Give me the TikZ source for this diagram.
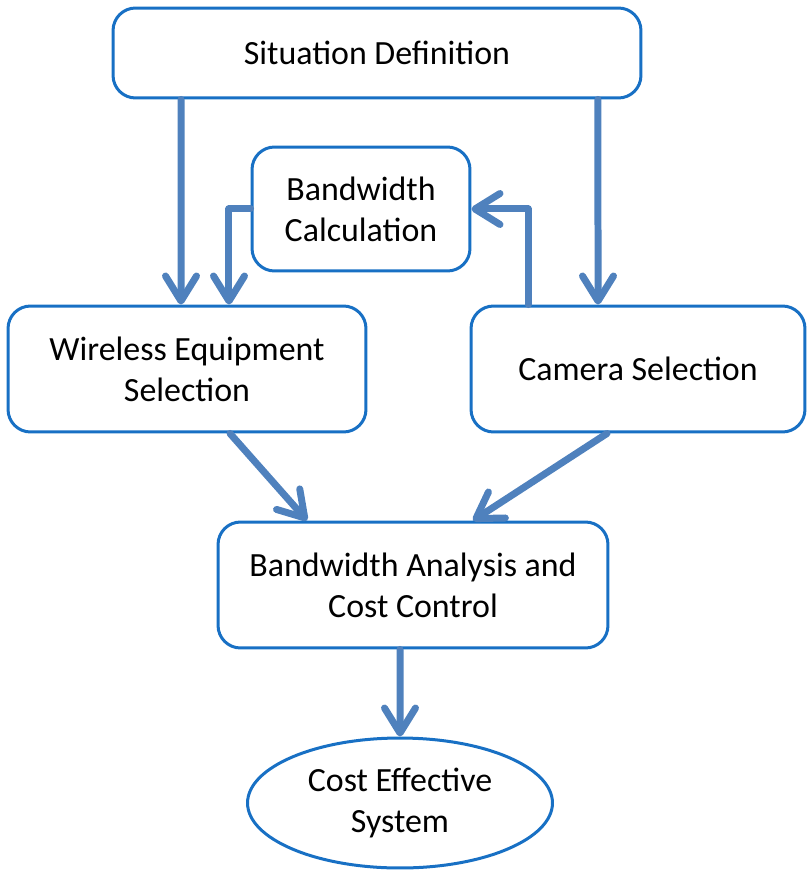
\documentclass[tikz,border=0pt]{standalone}
\usepackage{fontspec}
\setmainfont{Carlito}
\usetikzlibrary{arrows.meta,shapes.geometric}
\definecolor{boxblue}{RGB}{24,112,196}
\definecolor{arrblue}{RGB}{79,129,189}
\begin{document}
\begin{tikzpicture}[x=0.02cm,y=-0.02cm,
    box/.style={draw=boxblue,line width=0.06cm,rounded corners=0.45cm,align=center,
        font=\fontsize{19.3}{23.3}\selectfont,text=black,inner sep=0pt},
    arr/.style={draw=arrblue,line width=0.14cm,line cap=round,line join=round,
        -{Straight Barb[length=0.5cm,width=0.62cm,round]}}]
    \useasboundingbox(0,0)rectangle(807,871);
    \node[box,minimum width=10.56cm,minimum height=1.8cm](sit)at(377,53){Situation Definition};
    \node[box,minimum width=4.36cm,minimum height=2.48cm](calc)at(361,209){Bandwidth\\Calculation};
    \node[box,minimum width=7.16cm,minimum height=2.52cm](wire)at(187,369){Wireless Equipment\\Selection};
    \node[box,minimum width=6.68cm,minimum height=2.52cm](cam)at(638,369){Camera Selection};
    \node[box,minimum width=7.8cm,minimum height=2.52cm](ana)at(413,585){Bandwidth Analysis and\\Cost Control};
    \node[box,ellipse,minimum width=6.1cm,minimum height=2.6cm](eff)at(400,803){Cost Effective\\System};
    \draw[arr]([xshift=-3.92cm]sit.south)--([xshift=-0.12cm]wire.north);
    \draw[arr]([xshift=4.42cm]sit.south)--([xshift=-0.8cm]cam.north);
    \draw[arr](calc.west)-|([xshift=0.84cm]wire.north);
    \draw[arr]([xshift=-2.2cm]cam.north)|-(calc.east);
    \draw[arr]([xshift=0.86cm]wire.south)--([xshift=-2.12cm]ana.north);
    \draw[arr]([xshift=-0.62cm]cam.south)--([xshift=1.2cm]ana.north);
    \draw[arr]([xshift=-0.26cm]ana.south)--(eff.north);
\end{tikzpicture}
\end{document}
